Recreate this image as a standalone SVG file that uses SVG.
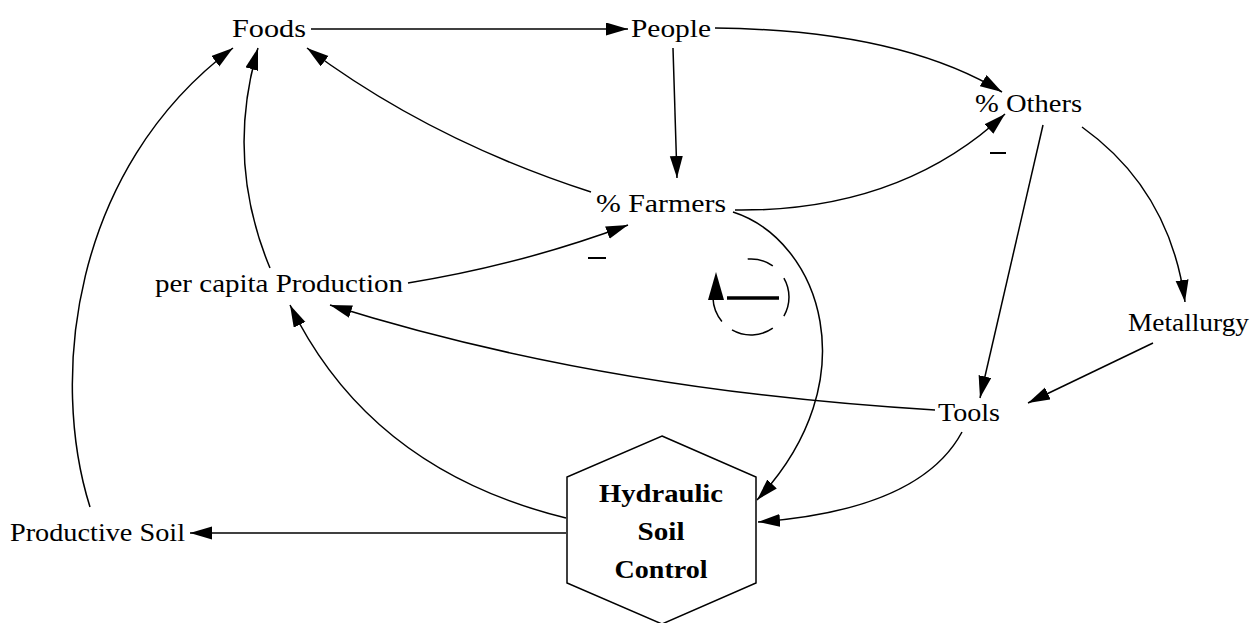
<svg xmlns="http://www.w3.org/2000/svg" width="1252" height="623" viewBox="0 0 1252 623">
<defs>
<marker id="ah" markerUnits="userSpaceOnUse" markerWidth="24" markerHeight="14" refX="22" refY="6.5" orient="auto">
<path d="M0,0 L22,6.5 L0,13 z" fill="#000"/>
</marker>
<style>
.lbl{font-family:"Liberation Serif","Times New Roman",serif;font-size:25px;fill:#000}
.hx{font-family:"Liberation Serif","Times New Roman",serif;font-size:25px;font-weight:bold;fill:#000;text-anchor:middle}
.c{fill:none;stroke:#000;stroke-width:1.5;marker-end:url(#ah)}
.m{stroke:#000;stroke-width:2}
</style>
</defs>
<rect width="1252" height="623" fill="#fff"/>
<g id="connectors">
<path class="c" d="M311,29 L628,29"/>
<path class="c" d="M673,48 L677,178"/>
<path class="c" d="M715,28 Q900,30 1002,92"/>
<path class="c" d="M591,192 Q430,140 307,48"/>
<path class="c" d="M270,268 Q225,160 258,48"/>
<path class="c" d="M90,507 C50,380 70,170 233,48"/>
<path class="c" d="M408,283 Q520,265 628,225"/>
<path class="c" d="M735,210 Q900,212 1005,114"/>
<path class="c" d="M733,212 C820,240 870,380 757,500"/>
<path class="c" d="M1082,127 Q1170,190 1185,302"/>
<path class="c" d="M1043,125 L980,398"/>
<path class="c" d="M1153,343 L1028,403"/>
<path class="c" d="M935,410 Q600,390 330,305"/>
<path class="c" d="M566,518 Q370,470 290,305"/>
<path class="c" d="M962,432 Q920,510 758,522"/>
<path class="c" d="M566,533 L190,533"/>
<line class="m" x1="588" y1="258" x2="606" y2="258"/>
<line class="m" x1="990" y1="153" x2="1006" y2="153"/>
</g>
<g id="loop">
<g fill="none" stroke="#000" stroke-width="1.5">
<path d="M747.7,259.1 A38,38 0 0 1 772.8,265.9"/>
<path d="M783.9,278 A38,38 0 0 1 783.9,316"/>
<path d="M772.8,328.1 A38,38 0 0 1 732,329.9"/>
<path d="M721.9,321.4 A38,38 0 0 1 713,298.3"/>
</g>
<path d="M716,272 L708,300 L724,300 z" fill="#000"/>
<line x1="727" y1="298" x2="779" y2="298" stroke="#000" stroke-width="3.5"/>
</g>
<g id="foods"><text class="lbl" x="232" y="37" textLength="74" lengthAdjust="spacingAndGlyphs">Foods</text></g>
<g id="people"><text class="lbl" x="631" y="37" textLength="80" lengthAdjust="spacingAndGlyphs">People</text></g>
<g id="others"><text class="lbl" x="975" y="112" textLength="107" lengthAdjust="spacingAndGlyphs">% Others</text></g>
<g id="farmers"><text class="lbl" x="596" y="212" textLength="130" lengthAdjust="spacingAndGlyphs">% Farmers</text></g>
<g id="production"><text class="lbl" x="155" y="292" textLength="248" lengthAdjust="spacingAndGlyphs">per capita Production</text></g>
<g id="metallurgy"><text class="lbl" x="1128" y="331" textLength="121" lengthAdjust="spacingAndGlyphs">Metallurgy</text></g>
<g id="tools"><text class="lbl" x="938" y="421" textLength="62" lengthAdjust="spacingAndGlyphs">Tools</text></g>
<g id="soil"><text class="lbl" x="10" y="541" textLength="175" lengthAdjust="spacingAndGlyphs">Productive Soil</text></g>
<g id="hydraulic">
<polygon points="662,436 756,477 756,583 662,624 567,583 567,477" fill="#fff" stroke="#000" stroke-width="1.5"/>
<text class="hx" x="661" y="502" textLength="124" lengthAdjust="spacingAndGlyphs">Hydraulic</text>
<text class="hx" x="661" y="540" textLength="47" lengthAdjust="spacingAndGlyphs">Soil</text>
<text class="hx" x="661" y="578" textLength="93" lengthAdjust="spacingAndGlyphs">Control</text>
</g>
</svg>
